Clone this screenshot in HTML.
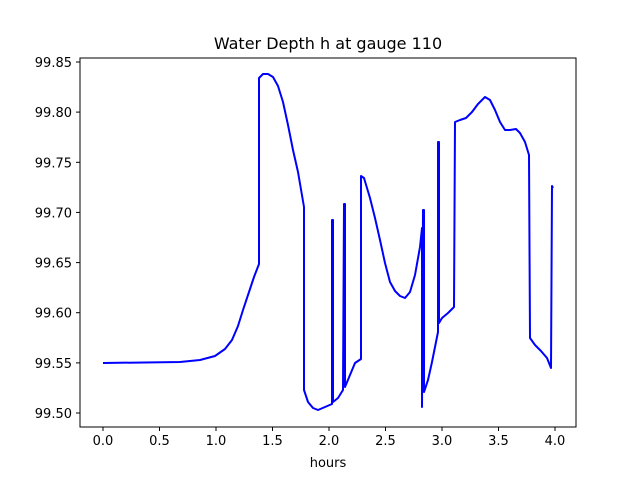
<!DOCTYPE html>
<html><head><meta charset="utf-8"><style>
body{margin:0;background:#fff}
text{font-family:"DejaVu Sans","Liberation Sans",sans-serif;fill:#000}
</style></head><body>
<svg width="640" height="480" xmlns="http://www.w3.org/2000/svg">
<rect width="640" height="480" fill="#fff"/>
<text x="328" y="49" font-size="16" text-anchor="middle">Water Depth h at gauge 110</text>
<g stroke="#000" stroke-width="1">
<line x1="103" y1="427" x2="103" y2="431"/><line x1="159.5" y1="427" x2="159.5" y2="431"/>
<line x1="216" y1="427" x2="216" y2="431"/><line x1="272.5" y1="427" x2="272.5" y2="431"/>
<line x1="329" y1="427" x2="329" y2="431"/><line x1="385.5" y1="427" x2="385.5" y2="431"/>
<line x1="442" y1="427" x2="442" y2="431"/><line x1="498.5" y1="427" x2="498.5" y2="431"/>
<line x1="555" y1="427" x2="555" y2="431"/>
<line x1="76" y1="413" x2="80" y2="413"/><line x1="76" y1="362.9" x2="80" y2="362.9"/>
<line x1="76" y1="312.7" x2="80" y2="312.7"/><line x1="76" y1="262.6" x2="80" y2="262.6"/>
<line x1="76" y1="212.4" x2="80" y2="212.4"/><line x1="76" y1="162.3" x2="80" y2="162.3"/>
<line x1="76" y1="112.1" x2="80" y2="112.1"/><line x1="76" y1="62" x2="80" y2="62"/>
</g>
<g font-size="13" text-anchor="middle">
<text x="103" y="445">0.0</text><text x="159.5" y="445">0.5</text><text x="216" y="445">1.0</text>
<text x="272.5" y="445">1.5</text><text x="329" y="445">2.0</text><text x="385.5" y="445">2.5</text>
<text x="442" y="445">3.0</text><text x="498.5" y="445">3.5</text><text x="555" y="445">4.0</text>
<text x="328" y="467">hours</text>
</g>
<g font-size="13" text-anchor="end">
<text x="72" y="418">99.50</text><text x="72" y="368">99.55</text><text x="72" y="317.7">99.60</text>
<text x="72" y="267.6">99.65</text><text x="72" y="217.4">99.70</text><text x="72" y="167.3">99.75</text>
<text x="72" y="117.1">99.80</text><text x="72" y="67">99.85</text>
</g>
<polyline fill="none" stroke="#0000ff" stroke-width="2" stroke-linejoin="round" points="
103,363 180,362 200,360 215,356 225,349 232,340 238,326 243,310 249,292 254,277 259,264 259,78
263,74 268,74 273,77 278,86 283,102 288,125 293,150 298,172 304,207 304,390 308,402 313,408 318,410 325,407 332,404
332,220 333,220 333,402 338,398 343,390 344,204 345,204 345,387 350,375 355,363 361,359 361,176 364,178
370,198 375,218 380,240 385,263 390,282 395,291 400,296 405,298 410,292 415,275 420,247 422,228
422,407 423,210 424,210 424,392 428,380 432,362 436,342 438,332 438,142 439,142 439,323 442,318 448,313 454,307
455,122 460,120 466,118 472,112 478,104 485,97 490,100 495,110 500,122 505,130 510,130 516,129 520,133
525,142 529,155 530,338 535,345 541,351 547,358 551,368 552,186 553,188"/>
<rect x="80" y="58" width="496" height="369" fill="none" stroke="#000" stroke-width="1"/>
</svg>
</body></html>
